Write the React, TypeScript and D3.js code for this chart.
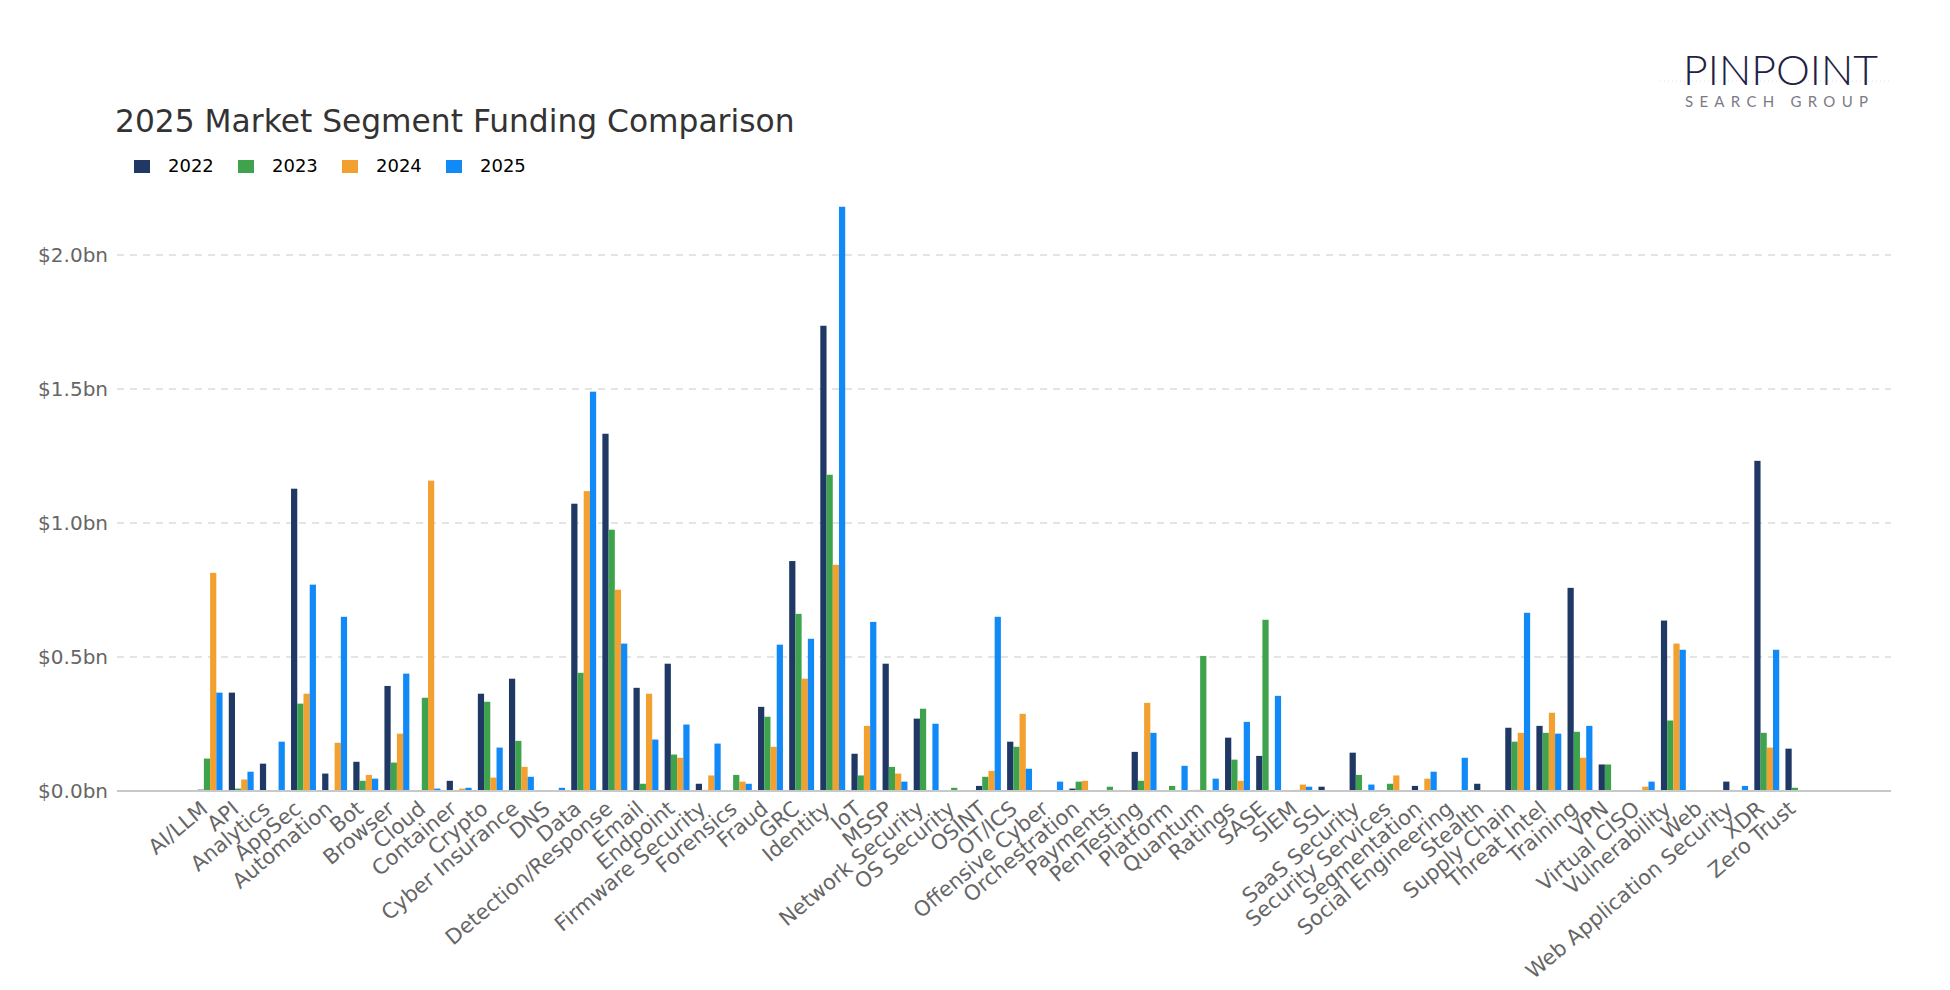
import * as d3 from 'd3'

const categories = [
  'AI/LLM', 'API', 'Analytics', 'AppSec', 'Automation', 'Bot', 'Browser', 'Cloud', 'Container', 'Crypto',
  'Cyber Insurance', 'DNS', 'Data', 'Detection/Response', 'Email', 'Endpoint', 'Firmware Security', 'Forensics',
  'Fraud', 'GRC', 'Identity', 'IoT', 'MSSP', 'Network Security', 'OS Security', 'OSINT', 'OT/ICS',
  'Offensive Cyber', 'Orchestration', 'Payments', 'PenTesting', 'Platform', 'Quantum', 'Ratings', 'SASE',
  'SIEM', 'SSL', 'SaaS Security', 'Security Services', 'Segmentation', 'Social Engineering', 'Stealth',
  'Supply Chain', 'Threat Intel', 'Training', 'VPN', 'Virtual CISO', 'Vulnerability', 'Web',
  'Web Application Security', 'XDR', 'Zero Trust'
]

const years = ['2022', '2023', '2024', '2025']

// funding in $bn
const funding2022 = [
  0.005, 0.367, 0.102, 1.128, 0.065, 0.109, 0.392, 0, 0.038, 0.363,
  0.419, 0, 1.072, 1.333, 0.385, 0.475, 0.027, 0,
  0.314, 0.858, 1.736, 0.139, 0.475, 0.270, 0, 0.019, 0.184,
  0, 0.009, 0, 0.146, 0, 0.004, 0.199, 0.131,
  0, 0.016, 0.143, 0, 0.019, 0, 0.027,
  0.236, 0.243, 0.758, 0.099, 0, 0.636, 0,
  0.035, 1.232, 0.158
]
const funding2023 = [
  0.121, 0.009, 0, 0.326, 0, 0.038, 0.106, 0.348, 0, 0.333,
  0.187, 0, 0.441, 0.975, 0.027, 0.136, 0.004, 0.060,
  0.277, 0.661, 1.180, 0.058, 0.090, 0.307, 0.012, 0.053, 0.165,
  0, 0.035, 0.016, 0.038, 0.019, 0.504, 0.117, 0.639,
  0.004, 0, 0.060, 0.027, 0, 0, 0,
  0.184, 0.217, 0.221, 0.099, 0, 0.263, 0,
  0.004, 0.217, 0.012
]
const funding2024 = [
  0.814, 0.043, 0, 0.363, 0.180, 0.060, 0.214, 1.158, 0.009, 0.050,
  0.090, 0, 1.119, 0.751, 0.363, 0.124, 0.058, 0.035,
  0.165, 0.419, 0.844, 0.243, 0.065, 0, 0, 0.075, 0.288,
  0, 0.038, 0, 0.329, 0, 0, 0.038, 0,
  0.024, 0, 0, 0.058, 0.046, 0, 0,
  0.217, 0.292, 0.124, 0, 0.016, 0.550, 0,
  0, 0.162, 0
]
const funding2025 = [
  0.367, 0.072, 0.184, 0.770, 0.650, 0.046, 0.438, 0.009, 0.012, 0.162,
  0.053, 0.012, 1.490, 0.550, 0.192, 0.248, 0.177, 0.027,
  0.546, 0.568, 2.180, 0.631, 0.035, 0.251, 0, 0.650, 0.083,
  0.035, 0, 0, 0.217, 0.094, 0.046, 0.258, 0.355,
  0.016, 0, 0.024, 0, 0.072, 0.124, 0,
  0.665, 0.214, 0.243, 0, 0.035, 0.527, 0,
  0.019, 0.527, 0
]

const yTicks = [0, 0.5, 1.0, 1.5, 2.0]

const colors = ['#1f3864', '#3fa34d', '#f2a030', '#118af7']
const series = [funding2022, funding2023, funding2024, funding2025]

const width = 1950
const height = 990
const axisLeft = 117
const axisRight = 1891
const baseY = 791

export default function App() {
  // outer margin of the category axis, as in the source chart
  const stepGuess = (axisRight - axisLeft) / 56.98
  const x = d3.scaleBand()
    .domain(categories)
    .range([axisLeft + 2.49 * stepGuess, axisRight - 2.49 * stepGuess])
    .paddingInner(0)
    .paddingOuter(0)
  const step = x.bandwidth()
  const xYear = d3.scaleBand()
    .domain(years)
    .range([0.1 * step, 0.9 * step])

  const y = d3.scaleLinear()
    .domain([0, 2])
    .range([baseY, 255])

  const fmt = (v: number) => `$${d3.format('.1f')(v)}bn`

  return (
    <svg
      width={width}
      height={height}
      style={{ position: 'absolute', left: 0, top: 0, background: '#fff' }}
      fontFamily="'DejaVu Sans', sans-serif"
    >
      <rect width={width} height={height} fill="#fff" />

      {/* logo */}
      <line x1={1660} x2={1890} y1={81} y2={81} stroke="#e4e4e8" strokeDasharray="1,3" />
      <text x={1683} y={85} fontFamily="Lato, 'Open Sans', sans-serif" fontWeight={300}
        fontSize={42} fill="#1e2244" textLength={195} lengthAdjust="spacingAndGlyphs">PINPOINT</text>
      <text x={1685} y={107} fontFamily="Lato, 'Open Sans', sans-serif"
        fontSize={15} fill="#7b7b85" textLength={183} lengthAdjust="spacing">SEARCH GROUP</text>

      {/* title */}
      <text x={115} y={132} fontSize={31.3} fill="#333">2025 Market Segment Funding Comparison</text>

      {/* legend */}
      {years.map((yr, i) => (
        <g key={yr} transform={`translate(${134 + i * 104},160)`}>
          <rect width={16} height={13} fill={colors[i]} />
          <text x={34} y={12} fontSize={18} fill="#000">{yr}</text>
        </g>
      ))}

      {/* grid */}
      {yTicks.map(t => (
        <g key={t}>
          {t > 0 && (
            <line x1={axisLeft} x2={axisRight} y1={y(t)} y2={y(t)}
              stroke="#dcdcdc" strokeWidth={1.5} strokeDasharray="7,6" />
          )}
          <text x={108} y={y(t)} dy="0.36em" textAnchor="end" fontSize={20} fill="#666">{fmt(t)}</text>
        </g>
      ))}

      {/* bars */}
      {categories.map((c, ci) => (
        <g key={c} transform={`translate(${x(c)},0)`}>
          {series.map((s, si) => (
            s[ci] > 0 ? (
              <rect key={si} x={xYear(years[si])} width={xYear.bandwidth()}
                y={y(s[ci])} height={baseY - y(s[ci])} fill={colors[si]} />
            ) : null
          ))}
        </g>
      ))}

      <line x1={axisLeft} x2={axisRight} y1={baseY} y2={baseY} stroke="#c8c8c8" strokeWidth={2} />

      {/* x labels */}
      {categories.map(c => {
        const cx = (x(c) || 0) + step / 2
        return (
          <text key={c} transform={`translate(${cx - 1},${baseY + 20}) rotate(-40)`}
            textAnchor="end" fontSize={21} fill="#666">{c}</text>
        )
      })}
    </svg>
  )
}
